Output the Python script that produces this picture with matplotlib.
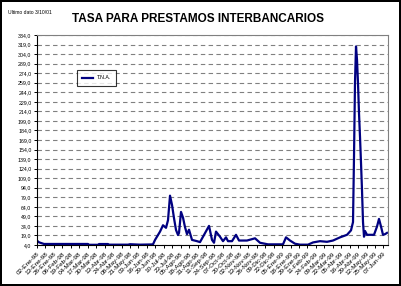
import numpy as np
import matplotlib
matplotlib.use("Agg")
import matplotlib.pyplot as plt
from matplotlib.ticker import FuncFormatter

plt.rcParams['font.family'] = ['Liberation Sans', 'DejaVu Sans']

# dia (posicion en el eje) y tasa
dia = [0, 2, 7, 51, 52, 61, 62, 71, 72, 91, 93, 103, 113, 116,
       118, 123, 126, 129, 131, 133, 135, 137, 139, 141, 142, 144, 146,
       148, 150, 152, 155, 160, 163, 166, 172, 175, 177, 179, 183, 186,
       189, 191, 195, 199, 202, 210, 218, 223, 231, 246, 249, 253, 258,
       263, 271, 276, 283, 290, 296, 303, 310, 314, 316, 317, 318, 319,
       320, 321, 322, 323, 324, 325, 326, 327, 328, 330, 337, 340, 342,
       344, 346, 348, 350]
tasa = [10.8, 8.2, 5.6, 5.6, 4.3, 4.3, 5.5, 5.5, 4.5, 4.5, 5.2, 4.5, 4.8, 5.0,
        11.9, 25, 35, 31, 43, 81.5, 67, 46, 27.6, 19.7, 23, 56, 47,
        32, 21, 28, 12, 10, 8.5, 17, 34, 12, 7.5, 25, 17, 10,
        16, 10, 10, 20, 11, 11, 14.5, 7.5, 5, 5, 16, 11, 6,
        4.5, 4.5, 8, 10, 9, 11, 16, 20, 27, 40, 143, 260, 316,
        295, 258, 211, 174, 133, 90, 40, 17, 26, 20, 20, 33, 45,
        33, 20, 21, 23]

fechas = ["02-Ene-98", "13-Ene-98", "26-Ene-98", "06-Feb-98", "19-Feb-98",
          "04-Mar-98", "17-Mar-98", "30-Mar-98", "13-Abr-98", "24-Abr-98",
          "08-May-98", "21-May-98", "03-Jun-98", "16-Jun-98", "29-Jun-98",
          "10-Jul-98", "23-Jul-98", "05-Ago-98", "18-Ago-98", "31-Ago-98",
          "11-Sep-98", "24-Sep-98", "07-Oct-98", "20-Oct-98", "02-Nov-98",
          "13-Nov-98", "26-Nov-98", "09-Dic-98", "22-Dic-98", "05-Ene-99",
          "18-Ene-99", "29-Ene-99", "11-Feb-99", "24-Feb-99", "09-Mar-99",
          "22-Mar-99", "05-Abr-99", "16-Abr-99", "29-Abr-99", "12-May-99",
          "25-May-99", "07-Jun-99"]
y_ticks = [4 + 15 * i for i in range(23)]

fig = plt.figure(figsize=(4.01, 2.86), dpi=100)
fig.patch.set_edgecolor('black')
fig.patch.set_linewidth(1.5)
ax = fig.add_axes([0.0923, 0.1434, 0.8753, 0.7342])

ax.plot(dia, tasa, color='#000080', lw=1.6, label='T.N.A.')

ax.set_xlim(0, 351)
ax.set_ylim(4, 334)
ax.set_yticks(y_ticks)
ax.yaxis.set_major_formatter(FuncFormatter(lambda v, p: f"{v:.1f}".replace('.', ',')))
ax.set_xticks(np.arange(len(fechas)) * 8.45)
ax.set_xticklabels(fechas, rotation=45, ha='right', rotation_mode='anchor')
ax.tick_params(axis='y', labelsize=3.8, length=2.5, width=0.7, pad=1.5)
ax.tick_params(axis='x', labelsize=4.6, length=2.5, width=0.7, pad=2)
ax.grid(axis='y', color='#808080', ls=(0, (4, 3)), lw=0.8)
ax.set_axisbelow(True)
for s in ['top', 'right']:
    ax.spines[s].set_color('#808080')
ax.spines['left'].set_linewidth(0.8)
ax.spines['bottom'].set_linewidth(0.8)

leg = ax.legend(loc='upper left', bbox_to_anchor=(0.105, 0.845), fontsize=3.8,
                frameon=True, fancybox=False, handlelength=2.2, borderpad=1.0,
                handletextpad=0.6)
leg.get_frame().set_edgecolor('black')
leg.get_frame().set_linewidth(0.8)

fig.text(0.493, 0.935, "TASA PARA PRESTAMOS INTERBANCARIOS", ha='center', va='center',
         fontsize=8.5, fontweight='bold')
fig.text(0.02, 0.955, "Ultimo dato 3/10/01", ha='left', va='center', fontsize=3.6)

fig.savefig("out.png", dpi=100)
